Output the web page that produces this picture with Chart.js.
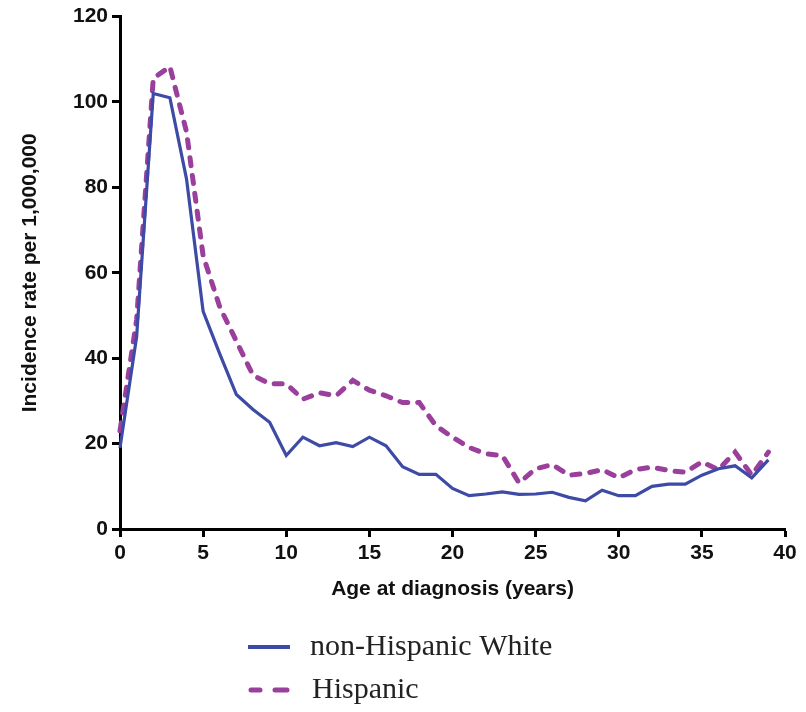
<!DOCTYPE html>
<html>
<head>
<meta charset="utf-8">
<script src="https://cdn.jsdelivr.net/npm/chart.js@4.4.1/dist/chart.umd.min.js"></script>
<style>
  html, body { margin: 0; padding: 0; background: #fff; }
  #wrap { width: 806px; height: 712px; }
</style>
</head>
<body>
<div id="wrap"><canvas id="incidenceChart" width="806" height="712"></canvas></div>
<script>
// Age at diagnosis (years)
const ages = [0, 1, 2, 3, 4, 5, 6, 7, 8, 9, 10, 11, 12, 13, 14, 15, 16, 17, 18, 19,
  20, 21, 22, 23, 24, 25, 26, 27, 28, 29, 30, 31, 32, 33, 34, 35, 36, 37, 38, 39];

// Incidence rate per 1,000,000
const nonHispanicWhite = [19, 45, 102, 101, 82, 51, 41, 31.5, 28, 25, 17.2, 21.5, 19.5, 20.2, 19.3,
  21.5, 19.5, 14.6, 12.8, 12.8, 9.5, 7.8, 8.2, 8.7, 8.1, 8.2, 8.6, 7.4, 6.6, 9.1,
  7.8, 7.8, 10, 10.5, 10.5, 12.6, 14.1, 14.8, 12, 16.2];
const hispanic = [23, 49, 105.5, 108.3, 93, 64, 52, 44, 36, 34, 34, 30.4, 31.9, 31.2, 34.8,
  32.5, 31.2, 29.6, 29.6, 24.2, 21.5, 19.1, 17.6, 17.2, 10.8, 14.1, 15.1, 12.6, 13, 13.9,
  12, 13.9, 14.5, 13.7, 13.3, 15.7, 13.9, 18, 12.6, 18];

const xTicks = [0, 5, 10, 15, 20, 25, 30, 35, 40];
const yTicks = [0, 20, 40, 60, 80, 100, 120];

const seriesNames = ["non-Hispanic White", "Hispanic"];
const blue = "#3D4AA6";
const purple = "#9A3F9C";

const toPoints = (vals) => ages.map((a, i) => ({ x: a, y: vals[i] }));

// legend stacked under the x axis title
const stackedLegend = {
  id: "stackedLegend",
  afterDraw(chart) {
    const ctx = chart.ctx;
    ctx.save();
    ctx.lineCap = "butt";
    // solid sample
    ctx.strokeStyle = blue;
    ctx.lineWidth = 4;
    ctx.beginPath();
    ctx.moveTo(248, 647);
    ctx.lineTo(290, 647);
    ctx.stroke();
    // dashed sample
    ctx.strokeStyle = purple;
    ctx.lineWidth = 5;
    ctx.lineCap = "round";
    ctx.beginPath();
    ctx.moveTo(251, 690);
    ctx.lineTo(260, 690);
    ctx.moveTo(275, 690);
    ctx.lineTo(287, 690);
    ctx.stroke();
    ctx.fillStyle = "#222";
    ctx.font = "30px 'Liberation Serif', 'Times New Roman', serif";
    ctx.textBaseline = "middle";
    ctx.fillText(seriesNames[0], 310, 647);
    ctx.fillText(seriesNames[1], 312, 690);
    ctx.restore();
  },
};

const axisFont = { family: "'Liberation Sans', Arial, sans-serif", size: 21, weight: "bold" };

new Chart(document.getElementById("incidenceChart"), {
  type: "line",
  data: {
    datasets: [
      {
        label: seriesNames[0],
        data: toPoints(nonHispanicWhite),
        borderColor: blue,
        borderWidth: 3.2,
        pointRadius: 0,
        tension: 0,
      },
      {
        label: seriesNames[1],
        data: toPoints(hispanic),
        borderColor: purple,
        borderWidth: 5,
        borderDash: [8, 10],
        borderCapStyle: "round",
        pointRadius: 0,
        tension: 0,
      },
    ],
  },
  options: {
    responsive: false,
    animation: false,
    clip: false,
    layout: { padding: { left: 0, right: 21, top: 13, bottom: 103 } },
    plugins: {
      legend: { display: false },
      tooltip: { enabled: false },
    },
    scales: {
      x: {
        type: "linear",
        min: 0,
        max: 40,
        afterFit: (scale) => { scale.height = 80; },
        afterBuildTicks: (scale) => { scale.ticks = xTicks.map((v) => ({ value: v })); },
        border: { display: true, color: "#000", width: 3 },
        grid: { display: true, drawOnChartArea: false, drawTicks: true, tickLength: 8, tickWidth: 3, tickColor: "#000" },
        ticks: { color: "#111", font: axisFont, padding: 4, maxRotation: 0 },
        title: {
          display: true,
          text: "Age at diagnosis (years)",
          color: "#111",
          font: axisFont,
          padding: { top: 0, bottom: 7 },
        },
      },
      y: {
        min: 0,
        max: 120,
        afterFit: (scale) => { scale.width = 120; },
        afterBuildTicks: (scale) => { scale.ticks = yTicks.map((v) => ({ value: v })); },
        border: { display: true, color: "#000", width: 3 },
        grid: { display: true, drawOnChartArea: false, drawTicks: true, tickLength: 8, tickWidth: 3, tickColor: "#000" },
        ticks: { color: "#111", font: axisFont, padding: 4 },
        title: {
          display: true,
          text: "Incidence rate per 1,000,000",
          color: "#111",
          font: axisFont,
          padding: { top: 18, bottom: 0 },
        },
      },
    },
  },
  plugins: [stackedLegend],
});
</script>
</body>
</html>
